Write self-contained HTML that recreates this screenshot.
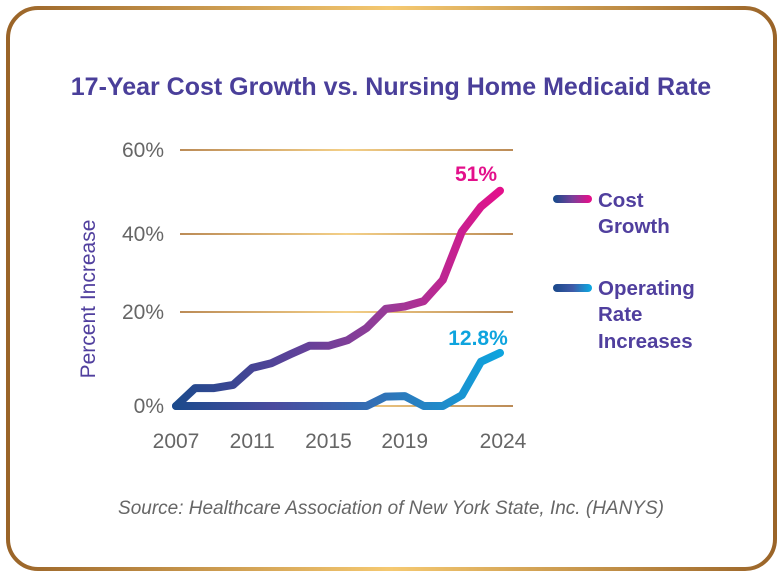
<!DOCTYPE html>
<html><head><meta charset="utf-8"><style>
html,body{margin:0;padding:0;background:#fff;}
body{width:783px;height:577px;overflow:hidden;font-family:"Liberation Sans","DejaVu Sans",sans-serif;}
</style></head><body>
<svg width="783" height="577" viewBox="0 0 783 577">
<defs>
<linearGradient id="bord" gradientUnits="userSpaceOnUse" x1="8" y1="0" x2="775" y2="0">
<stop offset="0" stop-color="#9a6428"/><stop offset="0.5" stop-color="#f5c971"/><stop offset="1" stop-color="#9a6428"/></linearGradient>
<linearGradient id="grid" gradientUnits="userSpaceOnUse" x1="180" y1="0" x2="513" y2="0">
<stop offset="0" stop-color="#a5651f"/><stop offset="0.5" stop-color="#f0c060"/><stop offset="1" stop-color="#a5651f"/></linearGradient>
<linearGradient id="gCost" gradientUnits="userSpaceOnUse" x1="176" y1="0" x2="500" y2="0">
<stop offset="0" stop-color="#1c4a8c"/><stop offset="0.35" stop-color="#5a4299"/><stop offset="0.65" stop-color="#983c98"/><stop offset="1" stop-color="#e3108b"/></linearGradient>
<linearGradient id="gOp" gradientUnits="userSpaceOnUse" x1="176" y1="0" x2="500" y2="0">
<stop offset="0" stop-color="#1c4a8c"/><stop offset="0.3" stop-color="#4a4a9e"/><stop offset="0.65" stop-color="#2f74b8"/><stop offset="1" stop-color="#0ea4de"/></linearGradient>
<linearGradient id="lCost" gradientUnits="userSpaceOnUse" x1="555" y1="0" x2="590" y2="0"><stop offset="0" stop-color="#1c4a8c"/><stop offset="0.5" stop-color="#7a3f9a"/><stop offset="1" stop-color="#e3108b"/></linearGradient>
<linearGradient id="lOp" gradientUnits="userSpaceOnUse" x1="555" y1="0" x2="590" y2="0"><stop offset="0" stop-color="#1c4a8c"/><stop offset="0.5" stop-color="#3f5aa8"/><stop offset="1" stop-color="#0ea4de"/></linearGradient>
</defs>
<rect x="8" y="8" width="767" height="561" rx="30" fill="#fff" stroke="url(#bord)" stroke-width="4"/>
<text x="391" y="95" text-anchor="middle" font-size="25" font-weight="bold" fill="#4a3f9a">17-Year Cost Growth vs. Nursing Home Medicaid Rate</text>
<g id="grid-g"></g>
<g id="yt"></g>
<g id="xt"></g>
<text transform="translate(95,299) rotate(-90)" text-anchor="middle" font-size="21" fill="#503f9e">Percent Increase</text>
<g id="lines"></g>
<text x="476" y="181" text-anchor="middle" font-size="21" font-weight="bold" fill="#e3108b">51%</text>
<text x="478" y="345" text-anchor="middle" font-size="21" font-weight="bold" fill="#0ea4de">12.8%</text>
<g>
<line x1="557" y1="199" x2="588" y2="199" stroke="url(#lCost)" stroke-width="8" stroke-linecap="round"/>
<text x="598" y="207" font-size="20.5" font-weight="bold" fill="#503f9e">Cost</text>
<text x="598" y="233" font-size="20.5" font-weight="bold" fill="#503f9e">Growth</text>
</g>
<g>
<line x1="557" y1="288" x2="588" y2="288" stroke="url(#lOp)" stroke-width="8" stroke-linecap="round"/>
<text x="598" y="295" font-size="20.5" font-weight="bold" fill="#503f9e">Operating</text>
<text x="598" y="321" font-size="20.5" font-weight="bold" fill="#503f9e">Rate</text>
<text x="598" y="348" font-size="20.5" font-weight="bold" fill="#503f9e">Increases</text>
</g>
<text x="391" y="514" text-anchor="middle" font-size="19" font-style="italic" fill="#666">Source: Healthcare Association of New York State, Inc. (HANYS)</text>
</svg>
<script>
const years=[2007,2008,2009,2010,2011,2012,2013,2014,2015,2016,2017,2018,2019,2020,2021,2022,2023,2024];
const costGrowth=[0,3.8,3.8,4.5,8.1,9.1,11,12.8,12.8,14,16.6,20.8,21.4,22.8,28.2,40.6,46.5,50.3];
const operatingRate=[0,0,0,0,0,0,0,0,0,0,0,2.0,2.1,0,0,2.3,9.4,11.3];
const yTicks=[0,20,40,60];
const yTickLabels=["0%","20%","40%","60%"];
const xTickLabels=[2007,2011,2015,2019,2024];
const yPix=[406,312,234,150];
const NS="http://www.w3.org/2000/svg";
function xs(yr){return 176+(yr-2007)*(500-176)/17;}
function ys(v){for(let i=0;i<yTicks.length-1;i++){if(v<=yTicks[i+1]||i===yTicks.length-2){const t=(v-yTicks[i])/(yTicks[i+1]-yTicks[i]);return yPix[i]+t*(yPix[i+1]-yPix[i]);}}}
function mk(tag,attrs,parent){const e=document.createElementNS(NS,tag);for(const k in attrs)e.setAttribute(k,attrs[k]);parent.appendChild(e);return e;}
const gg=document.getElementById('grid-g'),yt=document.getElementById('yt'),xt=document.getElementById('xt'),lg=document.getElementById('lines');
yTicks.forEach((v,i)=>{
const l=mk('line',{x1:180,x2:513,y1:ys(v),y2:ys(v),stroke:'url(#grid)','stroke-width':1.5},gg);


const t=mk('text',{x:164,y:ys(v)+7,'text-anchor':'end','font-size':21,fill:'#666'},yt);
t.textContent=yTickLabels[i];


});
xTickLabels.forEach(yr=>{
const t=mk('text',{x:xs(yr)+(yr===2024?3:0),y:448,'text-anchor':'middle','font-size':21,fill:'#666'},xt);
t.textContent=yr;


});
function line(data,stroke,name){
const d=data.map((v,i)=>(i?'L':'M')+xs(years[i]).toFixed(1)+' '+ys(v).toFixed(1)).join(' ');
const p=mk('path',{d:d,fill:'none',stroke:stroke,'stroke-width':8,'stroke-linejoin':'round','stroke-linecap':'round'},lg);


}
line(operatingRate,'url(#gOp)','operating-rate-line');
line(costGrowth,'url(#gCost)','cost-growth-line');
</script>
</body></html>
